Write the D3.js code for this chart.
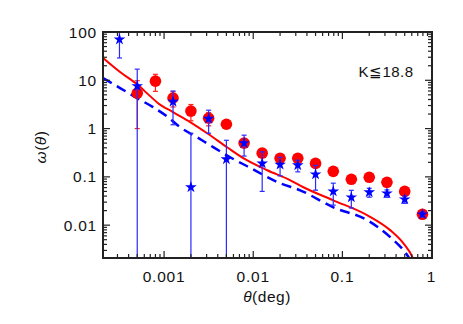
<!DOCTYPE html>
<html><head><meta charset="utf-8">
<script src="https://cdn.jsdelivr.net/npm/d3@7"></script>
<style>body{margin:0;background:#fff}svg{display:block}text{font-family:"Liberation Sans",Arial,sans-serif}</style>
</head><body><svg id="c" width="463" height="324"></svg>
<script>
// Red circles: theta (deg), w, error
const redTheta = [0.0005,0.0008,0.00126,0.002,0.00316,0.005,0.0079,0.0126,0.02,0.0316,0.05,0.079,0.126,0.2,0.316,0.5,0.79];
const redW     = [5.4,9.6,4.3,2.3,1.64,1.23,0.50,0.31,0.243,0.243,0.19,0.13,0.089,0.098,0.077,0.050,0.0168];
const redErr   = [4.4,3.7,1.5,0.85,0.5,0.2,0.08,0.05,0.04,0.03,0.02,0.015,0.01,0.01,0.008,0.005,0.002];
// Blue stars
const blueTheta = [0.000316,0.0005,0.00126,0.002,0.00316,0.005,0.0079,0.0126,0.02,0.0316,0.05,0.079,0.126,0.2,0.316,0.5,0.79];
const blueW     = [70,7.6,3.6,0.061,1.6,0.232,0.50,0.19,0.18,0.174,0.113,0.050,0.0377,0.048,0.0457,0.0343,0.0168];
const blueErr   = [41,9.4,2.4,0.74,0.8,0.34,0.23,0.14,0.075,0.047,0.06,0.024,0.015,0.01,0.008,0.006,0.002];
// Model curves
const redModelTheta = [0.000207,0.000321,0.000511,0.000697,0.000857,0.00126,0.00196,0.00304,0.0051,0.0081,0.01435,0.0261,0.0365,0.0793,0.191,0.346,0.484,0.612,0.66];
const redModelW     = [28.9,14.8,7.94,4.70,3.36,2.19,1.36,0.80,0.41,0.232,0.137,0.085,0.061,0.0327,0.0160,0.0078,0.0042,0.00215,0.0015];
const blueModelTheta = [0.000207,0.000321,0.000498,0.000752,0.00111,0.00151,0.00235,0.00329,0.00551,0.00856,0.0201,0.0336,0.0793,0.191,0.346,0.537,0.612];
const blueModelW     = [11.1,6.9,4.27,2.78,1.72,1.07,0.66,0.45,0.255,0.166,0.0737,0.0527,0.0234,0.0126,0.0056,0.00236,0.0016];
// Tick labels
const xTickVals = [0.001,0.01,0.1,1];
const xTickLabels = ["0.001","0.01","0.1","1"];
const yTickVals = [0.01,0.1,1,10,100];
const yTickLabels = ["0.01","0.1","1","10","100"];
const annotation = "K≦18.8";

const L=103,R=432,T=32,B=258;
const x = d3.scaleLog().domain([Math.pow(10,-3.685), Math.pow(10,0.005)]).range([L,R]);
const y = d3.scaleLog().domain([Math.pow(10,-2.68), 100]).range([B,T]);
const svg = d3.select("#c");
const axisCol="#222";

svg.append("defs").append("clipPath").attr("id","clip")
  .append("rect").attr("x",L).attr("y",T).attr("width",R-L).attr("height",B-T);
const plot = svg.append("g").attr("clip-path","url(#clip)");

const line = d3.line().x(d=>x(d[0])).y(d=>y(d[1])).curve(d3.curveMonotoneX);
plot.append("path").datum(redModelTheta.map((t,i)=>[t,redModelW[i]]))
  .attr("d",line).attr("fill","none").attr("stroke","#ff0000").attr("stroke-width",2);
plot.append("path").datum(blueModelTheta.map((t,i)=>[t,blueModelW[i]]))
  .attr("d",line).attr("fill","none").attr("stroke","#0000ff").attr("stroke-width",2.5)
  .attr("stroke-dasharray","10,6");

function errbars(g, th, w, e, col, sw){
  th.forEach((t,i)=>{
    const xc=x(t);
    const hi=w[i]+e[i], lo=w[i]-e[i];
    const yhi=y(hi), ylo= lo>0 ? y(lo) : B+10;
    g.append("line").attr("x1",xc).attr("x2",xc).attr("y1",yhi).attr("y2",ylo).attr("stroke",col).attr("stroke-width",sw);
    g.append("line").attr("x1",xc-2.5).attr("x2",xc+2.5).attr("y1",yhi).attr("y2",yhi).attr("stroke",col).attr("stroke-width",sw);
    if(lo>0) g.append("line").attr("x1",xc-2.5).attr("x2",xc+2.5).attr("y1",ylo).attr("y2",ylo).attr("stroke",col).attr("stroke-width",sw);
  });
}
errbars(plot, redTheta, redW, redErr, "#ff2020", 1.2);
plot.selectAll("circle.r").data(redTheta).enter().append("circle")
  .attr("cx",d=>x(d)).attr("cy",(d,i)=>y(redW[i])).attr("r",5.8).attr("fill","#ff0000");
errbars(plot, blueTheta, blueW, blueErr, "#2a2aff", 1.2);
const star = d3.symbol().type(d3.symbolStar).size(42);
plot.selectAll("path.s").data(blueTheta).enter().append("path")
  .attr("d",star).attr("transform",(d,i)=>`translate(${x(d)},${y(blueW[i])})`).attr("fill","#0000ff");

// Frame
svg.append("rect").attr("x",L).attr("y",T).attr("width",R-L).attr("height",B-T)
  .attr("fill","none").attr("stroke",axisCol).attr("stroke-width",2);

// Ticks
const tk = svg.append("g").attr("stroke",axisCol).attr("stroke-width",1.2);
const xd=x.domain(), yd=y.domain();
for(let e=-4;e<=0;e++){
  for(let m=1;m<=9;m++){
    const v=m*Math.pow(10,e);
    if(v<xd[0]||v>xd[1]*1.0001) continue;
    const len = m===1?7:4, px=x(v);
    tk.append("line").attr("x1",px).attr("x2",px).attr("y1",B).attr("y2",B-len);
    tk.append("line").attr("x1",px).attr("x2",px).attr("y1",T).attr("y2",T+len);
  }
}
for(let e=-3;e<=2;e++){
  for(let m=1;m<=9;m++){
    const v=m*Math.pow(10,e);
    if(v<yd[0]||v>yd[1]*1.0001) continue;
    const len = m===1?7:4, py=y(v);
    tk.append("line").attr("x1",L).attr("x2",L+len).attr("y1",py).attr("y2",py);
    tk.append("line").attr("x1",R).attr("x2",R-len).attr("y1",py).attr("y2",py);
  }
}

// Tick labels
const lab = svg.append("g").attr("fill","#111").attr("font-size","15.5px").attr("letter-spacing","0.8px");
xTickVals.forEach((v,i)=>{
  lab.append("text").attr("x",x(v)).attr("y",282).attr("text-anchor","middle").text(xTickLabels[i]);
});
yTickVals.forEach((v,i)=>{
  lab.append("text").attr("x",97).attr("y",y(v)+5.5).attr("text-anchor","end").text(yTickLabels[i]);
});

// Axis titles
const xt = svg.append("text").attr("x",267).attr("y",302).attr("text-anchor","middle")
  .attr("font-size","15.5px").attr("fill","#111").attr("letter-spacing","0.5px");
xt.append("tspan").attr("font-style","italic").text("θ");
xt.append("tspan").text("(deg)");
const yt = svg.append("text").attr("transform","translate(46,147) rotate(-90)").attr("text-anchor","middle")
  .attr("font-size","15.5px").attr("fill","#111").attr("letter-spacing","0.5px");
yt.append("tspan").attr("font-style","italic").text("ω");
yt.append("tspan").text("(");
yt.append("tspan").attr("font-style","italic").text("θ");
yt.append("tspan").text(")");

svg.append("text").attr("x",386).attr("y",77).attr("text-anchor","middle")
  .attr("font-size","15px").attr("fill","#111").attr("letter-spacing","0.5px").text(annotation);
</script></body></html>
